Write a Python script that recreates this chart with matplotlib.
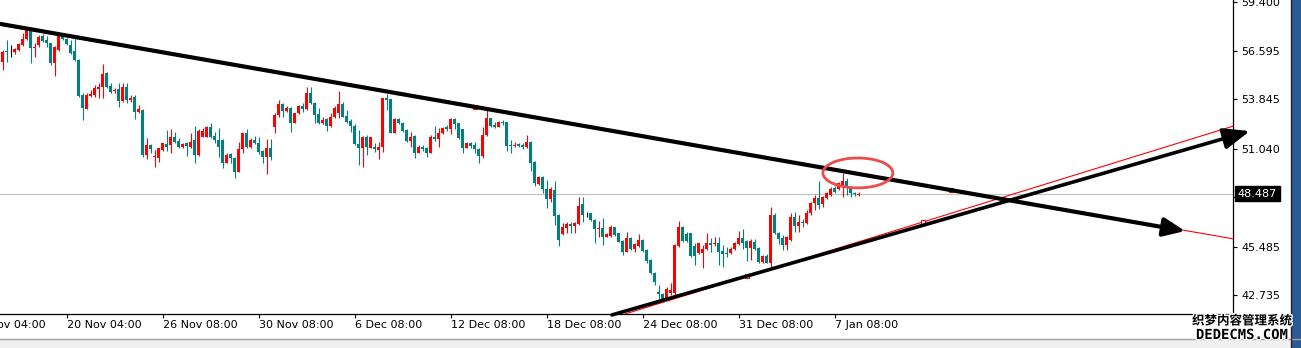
import numpy as np
import matplotlib.pyplot as plt
from matplotlib.patches import Ellipse, Rectangle
import matplotlib.patheffects as pe

# H4 candles (first one is cut by the left edge)
opens = [
    56.09, 55.98, 56.60, 56.60, 56.55, 56.66, 56.94, 57.28, 57.85, 56.77,
    56.94, 57.46, 57.23, 57.06, 55.92, 56.66, 57.46, 57.28, 56.94, 56.60,
    56.09, 54.10, 53.31, 54.05, 54.10, 54.44, 54.56, 55.35, 54.62, 54.33,
    54.44, 53.76, 54.56, 53.82, 53.99, 53.14, 53.25, 50.70, 51.26, 50.58,
    50.53, 50.98, 51.32, 51.26, 51.72, 51.49, 51.15, 51.38, 51.15, 51.55,
    50.70, 51.72, 51.72, 52.29, 51.77, 51.55, 51.55, 50.24, 50.75, 50.53,
    49.73, 51.04, 51.94, 51.15, 51.55, 51.38, 50.92, 50.58, 51.09, 52.29,
    52.97, 53.59, 53.20, 53.37, 52.51, 53.08, 53.48, 53.31, 54.22, 53.65,
    53.03, 52.51, 52.74, 52.34, 52.85, 53.08, 53.59, 52.91, 52.63, 52.34,
    51.32, 51.09, 51.72, 51.09, 51.15, 50.98, 51.15, 53.93, 53.88, 51.94,
    52.74, 52.51, 52.12, 51.49, 51.77, 50.81, 51.15, 51.09, 50.81, 51.72,
    51.60, 51.94, 52.29, 52.17, 52.74, 52.51, 52.17, 51.09, 51.38, 51.26,
    51.04, 50.64, 51.83, 52.80, 52.40, 52.29, 52.57, 52.57, 51.26, 51.21,
    51.32, 51.26, 51.15, 51.43, 50.30, 49.05, 49.45, 48.76, 48.20, 48.71,
    47.29, 46.21, 46.55, 46.78, 46.66, 46.78, 47.91, 47.34, 47.40, 47.00,
    46.49, 46.55, 46.04, 46.10, 46.61, 46.27, 45.81, 45.19, 45.98, 45.36,
    45.53, 45.87, 45.30, 44.73, 43.99, 42.91, 42.80, 42.52, 42.86, 42.86,
    45.53, 46.61, 46.21, 46.27, 45.53, 45.13, 45.13, 45.36, 45.70, 45.64,
    45.70, 45.24, 45.13, 45.13, 45.36, 45.64, 45.98, 45.81, 45.41, 45.75,
    45.41, 44.62, 44.96, 44.56, 47.29, 46.27, 45.98, 45.58, 45.87, 47.17,
    46.66, 46.89, 46.83, 47.40, 47.97, 48.25, 47.91, 48.25, 48.42, 48.82,
    48.76, 48.99, 49.22, 48.88, 48.54, 48.45,
]
highs = [
    56.20, 56.66, 57.23, 56.94, 56.77, 57.06, 57.63, 57.91, 57.97, 57.06,
    57.51, 57.57, 57.46, 57.06, 56.89, 57.57, 57.57, 57.34, 57.23, 57.34,
    56.15, 54.22, 54.22, 54.39, 54.67, 54.79, 55.86, 55.41, 54.79, 54.50,
    54.79, 54.79, 54.79, 54.10, 54.10, 53.54, 53.31, 51.66, 51.32, 50.98,
    51.09, 51.38, 52.12, 52.17, 52.00, 51.66, 51.38, 51.43, 51.94, 52.34,
    52.17, 52.23, 52.34, 52.51, 52.00, 52.23, 51.60, 50.81, 50.81, 50.58,
    51.43, 51.94, 52.17, 51.66, 51.77, 51.72, 50.98, 51.60, 51.60, 53.08,
    53.82, 53.65, 53.48, 53.42, 53.08, 53.54, 53.65, 54.56, 54.56, 53.71,
    53.37, 52.85, 52.80, 53.08, 53.48, 54.33, 53.71, 53.25, 52.74, 52.46,
    52.12, 51.77, 51.83, 51.72, 51.38, 51.43, 53.93, 54.16, 53.88, 52.80,
    52.80, 52.57, 52.17, 52.00, 51.83, 51.26, 51.26, 51.15, 51.83, 52.34,
    52.23, 52.29, 52.40, 52.80, 52.80, 52.51, 52.17, 51.43, 51.43, 51.43,
    51.09, 52.29, 53.25, 52.80, 52.57, 52.63, 52.68, 52.57, 51.55, 51.43,
    51.38, 51.38, 51.83, 51.49, 50.36, 49.50, 49.50, 49.28, 48.88, 49.22,
    47.34, 46.83, 46.89, 46.89, 46.89, 48.31, 48.31, 47.46, 47.40, 47.06,
    46.95, 47.12, 46.27, 46.72, 46.61, 46.27, 45.87, 46.32, 46.04, 45.70,
    46.21, 45.92, 45.36, 44.79, 44.05, 43.31, 42.86, 43.20, 43.43, 45.64,
    46.95, 46.66, 46.32, 46.27, 45.70, 45.70, 45.58, 46.27, 45.98, 46.04,
    46.04, 45.58, 45.47, 45.47, 45.75, 46.38, 46.49, 45.87, 45.92, 45.92,
    45.47, 45.02, 45.07, 47.74, 47.40, 46.32, 46.15, 46.10, 47.40, 47.46,
    47.29, 47.06, 47.57, 48.03, 48.42, 49.22, 48.37, 48.59, 48.88, 48.94,
    49.16, 49.67, 49.39, 48.94, 48.59, 48.59,
]
lows = [
    55.86, 55.52, 55.98, 56.26, 56.43, 56.60, 56.89, 57.23, 55.92, 56.26,
    56.83, 57.11, 56.83, 55.81, 55.18, 56.60, 57.23, 56.94, 56.43, 56.04,
    53.99, 52.68, 53.31, 53.99, 53.99, 53.93, 53.93, 54.50, 54.22, 54.22,
    53.42, 53.71, 53.65, 53.71, 52.74, 53.08, 50.58, 50.47, 50.81, 50.01,
    50.30, 50.92, 50.92, 50.81, 51.38, 51.09, 51.09, 50.64, 51.09, 50.24,
    50.64, 51.72, 51.72, 51.66, 51.38, 50.58, 49.96, 50.24, 50.24, 49.39,
    49.73, 50.81, 51.09, 51.09, 51.32, 50.75, 50.24, 49.62, 50.41, 51.94,
    52.85, 52.85, 53.14, 52.00, 52.51, 53.03, 53.14, 53.25, 53.59, 52.51,
    52.46, 52.46, 52.06, 52.29, 52.80, 52.80, 52.85, 52.51, 52.00, 51.26,
    50.13, 50.01, 50.70, 51.09, 50.87, 50.47, 50.87, 53.25, 51.94, 51.94,
    52.46, 52.00, 51.43, 51.15, 50.53, 50.81, 50.92, 50.58, 50.81, 51.49,
    51.15, 51.89, 52.06, 51.89, 52.17, 51.60, 50.81, 51.09, 51.09, 50.81,
    50.24, 50.53, 51.77, 52.29, 52.23, 52.29, 52.40, 50.92, 50.81, 51.15,
    51.15, 51.04, 51.09, 49.79, 48.94, 48.99, 48.54, 47.69, 48.03, 46.72,
    45.53, 46.15, 46.27, 46.27, 46.27, 46.72, 46.89, 47.17, 46.95, 45.70,
    46.04, 45.58, 46.04, 46.04, 46.10, 45.75, 45.02, 45.19, 45.30, 45.19,
    45.47, 45.19, 44.56, 43.94, 43.31, 42.52, 42.46, 42.46, 42.74, 42.74,
    45.47, 45.75, 45.75, 44.90, 44.45, 45.07, 44.28, 45.30, 45.19, 45.53,
    44.45, 44.34, 44.90, 45.07, 45.30, 45.58, 45.36, 44.68, 44.73, 45.30,
    44.56, 44.56, 44.56, 44.28, 46.21, 45.64, 45.30, 45.30, 45.81, 46.32,
    46.32, 46.61, 46.78, 47.29, 47.57, 47.63, 47.74, 48.20, 48.37, 48.54,
    48.71, 48.31, 48.42, 48.31, 48.37, 48.37,
]
closes = [
    55.98, 56.55, 56.55, 56.60, 56.72, 57.00, 57.28, 57.85, 56.77, 56.83,
    57.40, 57.17, 57.06, 55.92, 56.83, 57.46, 57.28, 57.00, 56.49, 56.09,
    54.05, 53.37, 54.10, 54.16, 54.50, 54.56, 55.30, 54.56, 54.27, 54.39,
    53.76, 54.56, 53.82, 53.93, 53.14, 53.31, 50.70, 51.26, 51.04, 50.64,
    51.09, 51.38, 51.15, 51.72, 51.43, 51.15, 51.32, 51.21, 51.43, 50.70,
    52.06, 52.06, 52.29, 51.72, 51.55, 51.15, 50.24, 50.70, 50.53, 49.73,
    51.04, 51.94, 51.15, 51.55, 51.38, 50.87, 50.58, 51.09, 50.58, 52.97,
    53.59, 53.20, 53.37, 52.51, 53.08, 53.48, 53.31, 54.22, 53.65, 52.97,
    52.51, 52.68, 52.34, 52.85, 53.37, 53.59, 52.85, 52.57, 52.34, 51.32,
    51.09, 51.72, 51.15, 51.72, 51.04, 51.15, 53.93, 53.82, 51.94, 52.74,
    52.51, 52.06, 51.49, 51.72, 50.81, 51.15, 51.04, 50.81, 51.72, 51.60,
    51.94, 52.23, 52.17, 52.74, 52.46, 51.66, 51.09, 51.38, 51.21, 51.04,
    50.64, 51.83, 52.80, 52.34, 52.29, 52.57, 52.51, 51.21, 51.21, 51.26,
    51.21, 51.15, 51.43, 50.24, 49.11, 49.45, 48.76, 48.20, 48.76, 47.23,
    45.87, 46.61, 46.78, 46.66, 46.83, 47.80, 47.29, 47.34, 47.00, 46.49,
    46.55, 46.04, 46.21, 46.61, 46.15, 45.75, 45.19, 45.98, 45.36, 45.64,
    45.87, 45.24, 44.68, 43.99, 43.48, 42.80, 42.52, 43.09, 43.03, 45.58,
    46.61, 45.81, 45.81, 44.96, 44.96, 45.70, 45.36, 45.70, 45.58, 45.70,
    45.19, 45.07, 45.07, 45.36, 45.70, 45.98, 45.70, 45.41, 45.81, 45.36,
    44.62, 44.96, 44.56, 47.29, 46.27, 45.92, 45.58, 46.04, 47.17, 46.66,
    46.89, 46.83, 47.40, 47.97, 48.25, 47.86, 48.31, 48.54, 48.76, 48.59,
    49.11, 49.22, 48.88, 48.54, 48.48, 48.49,
]

tick_bars = [-7, 17, 41, 65, 89, 113, 137, 161, 185, 209]
tick_labels = ["14 Nov 04:00", "20 Nov 04:00", "26 Nov 08:00", "30 Nov 08:00",
               "6 Dec 08:00", "12 Dec 08:00", "18 Dec 08:00", "24 Dec 08:00",
               "31 Dec 08:00", "7 Jan 08:00"]
price_ticks = [59.400, 56.595, 53.845, 51.040, 48.290, 45.485, 42.735]
last_price = 48.487

# trendline anchors (bar, price) and the hand drawn arrows
upper_anchor_x, upper_anchor_y = [119, 238], [53.40, 48.71]
lower_anchor_x, lower_anchor_y = [187, 231], [43.79, 46.88]
upper_arrow_x, upper_arrow_y = [-0.9, 296.6], [58.19, 46.37]
lower_arrow_x, lower_arrow_y = [153.3, 312.8], [41.60, 52.05]
ring_x, ring_y = 214.8, 49.67

o = np.array(opens)
h = np.array(highs)
l = np.array(lows)
c = np.array(closes)
x = np.arange(len(o))

fig = plt.figure(figsize=(13.01, 3.48), dpi=100)
ax = fig.add_axes([0, 34 / 348, 1233 / 1301, 314 / 348])
ax.set_xlim(0.333, 308.58)
ax.set_ylim(41.655, 59.497)

cols = np.where(c > o, "#ff0000", np.where(c < o, "#008080", "#000000"))
ax.vlines(x, l, h, colors=cols, lw=0.8, zorder=2)
body = np.maximum(np.abs(c - o), 0.05)
bottom = np.where(np.abs(c - o) < 0.05, np.minimum(o, c) - 0.025, np.minimum(o, c))
ax.bar(x, body, bottom=bottom, width=0.8, color=cols, linewidth=0, zorder=2)

# current price line
ax.axhline(last_price, color="#c0c0c0", lw=0.8, zorder=1)


def extend(xs, ys, x0, x1):
    k = (ys[1] - ys[0]) / (xs[1] - xs[0])
    return [x0, x1], [ys[0] + k * (x0 - xs[0]), ys[0] + k * (x1 - xs[0])]


ux, uy = extend(upper_anchor_x, upper_anchor_y, 0, 308.6)
lx, ly = extend(lower_anchor_x, lower_anchor_y, 150, 308.6)
ax.plot(ux, uy, color="red", lw=0.8, zorder=3)
ax.plot(lx, ly, color="red", lw=0.8, zorder=3)
ax.plot(upper_anchor_x, upper_anchor_y, "s", ms=3, mfc="white", mec="red", mew=0.8, zorder=3)
ax.plot(lower_anchor_x, lower_anchor_y, "s", ms=3, mfc="white", mec="red", mew=0.8, zorder=3)

ax.annotate("", xy=(upper_arrow_x[1], upper_arrow_y[1]), xytext=(upper_arrow_x[0], upper_arrow_y[0]),
            arrowprops=dict(arrowstyle="-|>,head_length=0.65,head_width=0.28", lw=3.0, color="black",
                            shrinkA=0, shrinkB=0, mutation_scale=20),
            annotation_clip=False, zorder=4)
ax.annotate("", xy=(lower_arrow_x[1], lower_arrow_y[1]), xytext=(lower_arrow_x[0], lower_arrow_y[0]),
            arrowprops=dict(arrowstyle="-|>,head_length=0.8,head_width=0.32", lw=2.6, color="black",
                            shrinkA=0, shrinkB=0, mutation_scale=20),
            annotation_clip=False, zorder=4)

ax.add_patch(Ellipse((ring_x, ring_y), 17.5, 1.70, fill=False, ec="#ee4b4b", lw=2.0, zorder=5))

# axes look of the terminal
for s in ["top", "left"]:
    ax.spines[s].set_visible(False)
for s in ["right", "bottom"]:
    ax.spines[s].set_linewidth(0.9)
ax.yaxis.tick_right()
ax.set_yticks(price_ticks)
ax.set_yticklabels([f"{v:.3f}" for v in price_ticks])
ax.tick_params(axis="y", length=3, width=0.8, pad=3, labelsize=8, colors="black")
ax.set_xticks([t for t in tick_bars if t > 0])
ax.set_xticklabels([])
ax.tick_params(axis="x", length=3, width=0.8)
for t, lab in zip(tick_bars, tick_labels):
    ax.annotate(lab, xy=(t, 0), xycoords=("data", "axes fraction"), xytext=(0.5, -4.5),
                textcoords="offset points", ha="left", va="top", fontsize=8,
                annotation_clip=False)

ax.annotate(f"{last_price:.3f}", xy=(1, last_price), xycoords=("axes fraction", "data"),
            xytext=(3.5, 0), textcoords="offset points", ha="left", va="center",
            fontsize=8, color="white", annotation_clip=False, zorder=10,
            bbox=dict(boxstyle="square,pad=0.22", fc="black", ec="black"))

# window chrome
fig.patches.append(Rectangle((0, 0), 1, 9 / 348, transform=fig.transFigure, fc="#f0f0f0", ec="none", zorder=0))
fig.add_artist(plt.Line2D([0, 1], [9 / 348, 9 / 348], transform=fig.transFigure, color="#a0a0a0", lw=1))
fig.patches.append(Rectangle((1291 / 1301, 0), 10 / 1301, 1, transform=fig.transFigure,
                             fc="#2a5a92", ec="none", zorder=1))
fig.add_artist(plt.Line2D([1291 / 1301] * 2, [0, 1], transform=fig.transFigure, color="#202040", lw=1))

# watermark
halo = [pe.withStroke(linewidth=2, foreground="white")]
fig.text(1242 / 1301, 27 / 348, "织梦内容管理系统", family=["Noto Sans CJK SC", "DejaVu Sans"],
         weight="bold", fontsize=9, ha="center", va="center", path_effects=halo)
fig.text(1242 / 1301, 13 / 348, "DEDECMS.COM", family="DejaVu Sans Mono", weight="bold",
         fontsize=10, ha="center", va="center", path_effects=halo)

fig.savefig("out.png", dpi=100)
